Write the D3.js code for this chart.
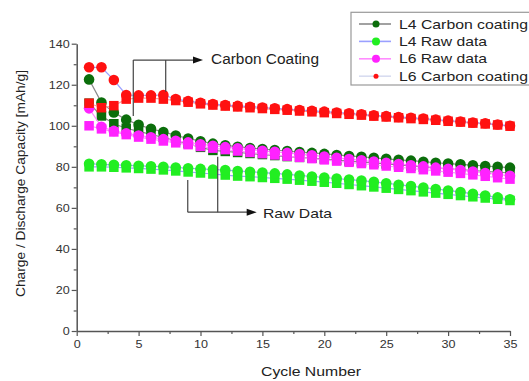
<!DOCTYPE html>
<html>
<head>
<meta charset="utf-8">
<script src="https://cdn.jsdelivr.net/npm/d3@7"></script>
<style>
  body { margin: 0; background: #fff; }
  text { font-family: "Liberation Sans", Arial, sans-serif; }
</style>
</head>
<body>
<svg id="chart"></svg>
<script>
// cycle numbers
const cycles = d3.range(1, 36);

// L4 carbon coating (charge = circles, discharge = squares)
const l4CarbonCharge = [122.6,111.3,106.5,103,100.5,98.5,97,95.3,93.8,92.5,91.3,90.5,89.8,89.2,88.7,88.2,87.7,87.2,86.8,86.3,85.8,85.3,84.9,84.4,83.9,83.4,83,82.5,82,81.6,81.2,80.8,80.4,80,79.6];
const l4CarbonDischarge = [111,104.8,101,98.8,97.3,95.8,94.3,92.8,91.3,89.5,88,87.5,87,86.5,86,85.5,85,84.6,84.2,83.8,83.3,82.8,82.4,81.9,81.4,80.9,80.4,79.9,79.5,79,78.6,78.2,77.8,77.4,77];

// L4 raw data
const l4RawCharge = [81.5,81.2,81,80.8,80.5,80.3,80,79.7,79.3,79,78.7,78.4,78,77.6,77.2,76.8,76.3,75.8,75.3,74.8,74.3,73.8,73.3,72.7,72,71.3,70.6,69.9,69.2,68.5,67.7,66.9,66,65.1,64.2];
const l4RawDischarge = [80,80,79.8,79.5,79.2,78.9,78.5,78,77.5,77,76.5,76,75.5,75.2,74.8,74.4,74,73.5,73,72.5,72,71.4,70.8,70.2,69.6,69,68.4,67.8,67.2,66.6,66,65.4,64.8,64.2,63.6];

// L6 raw data
const l6RawCharge = [108.5,99.5,97.5,96.3,95.3,94.4,93.5,92.7,91.9,91,90.3,89.6,89,88.4,87.8,87.3,86.8,86.2,85.6,85,84.4,83.8,83.2,82.6,82,81.4,80.8,80.2,79.6,79,78.4,77.7,77,76.3,75.6];
const l6RawDischarge = [100,98.5,97,95.7,94.5,93.5,92.6,91.7,90.8,89.9,89.1,88.4,87.7,87,86.4,85.8,85.2,84.6,84,83.4,82.8,82.2,81.6,81,80.4,79.8,79.2,78.6,78,77.4,76.8,76.1,75.4,74.7,74];

// L6 carbon coating
const l6CarbonCharge = [128.5,128.5,122.3,115,114.8,114.8,115,113,112,111.2,110.6,110.1,109.7,109.3,108.9,108.5,108.1,107.7,107.3,106.9,106.5,106.1,105.6,105.1,104.7,104.3,103.9,103.5,103,102.5,102.1,101.6,101.2,100.6,100];
const l6CarbonDischarge = [111,108.8,109.8,113,113.5,113.5,113,112.3,111.5,110.7,110.1,109.6,109.2,108.8,108.4,108,107.6,107.2,106.8,106.4,106,105.6,105.2,104.7,104.3,103.9,103.5,103.1,102.7,102.2,101.8,101.3,100.9,100.4,99.8];

const seriesNames = ["L4 Carbon coating", "L4 Raw data", "L6 Raw data", "L6 Carbon coating"];
const xTicks = [0, 5, 10, 15, 20, 25, 30, 35];
const yTicks = [0, 20, 40, 60, 80, 100, 120, 140];

// layout
const W = 529, H = 381;
const margin = {top: 43.7, right: 19, bottom: 50, left: 76.7};
const width = W - margin.left - margin.right;
const height = H - margin.top - margin.bottom;

const svg = d3.select('#chart')
    .attr('width', W)
    .attr('height', H);
const g = svg.append('g')
    .attr('transform', 'translate(' + margin.left + ',' + margin.top + ')');

const x = d3.scaleLinear().domain([0, 35]).range([0, width]);
const y = d3.scaleLinear().domain([0, 140]).range([height, 0]);

// axes
const axisColor = '#555';
const xAxis = g.append('g')
    .attr('transform', 'translate(0,' + height + ')')
    .call(d3.axisBottom(x).tickValues(d3.range(0, 35.1, 2.5)).tickSize(4).tickSizeOuter(0)
        .tickFormat(d => xTicks.includes(d) ? d : ''));
const yAxis = g.append('g')
    .call(d3.axisLeft(y).tickValues(d3.range(0, 141, 10)).tickSize(4).tickSizeOuter(0)
        .tickFormat(d => yTicks.includes(d) ? d : ''));
[xAxis, yAxis].forEach(function(a) {
    a.select('.domain').attr('stroke', axisColor).attr('stroke-width', 1.5);
    a.selectAll('.tick line').attr('stroke', axisColor).attr('stroke-width', 1.2);
    a.selectAll('.tick text').attr('fill', '#333').style('font-size', '11px')
        .style('font-family', '"Liberation Sans", Arial, sans-serif')
        .attr('lengthAdjust', 'spacingAndGlyphs')
        .attr('textLength', function(d) { return String(d).length * 7; });
});
xAxis.selectAll('.tick line').attr('y2', d => xTicks.includes(d) ? 5 : 3);
yAxis.selectAll('.tick line').attr('x2', d => yTicks.includes(d) ? -5 : -3);
xAxis.selectAll('.tick text').attr('y', 9);
xAxis.selectAll('.tick text').filter(d => !xTicks.includes(d)).remove();
yAxis.selectAll('.tick text').filter(d => !yTicks.includes(d)).remove();

// axis titles
svg.append('text')
    .attr('x', 261).attr('y', 376)
    .style('font-size', '13px').attr('fill', '#222')
    .attr('textLength', 100).attr('lengthAdjust', 'spacingAndGlyphs')
    .text('Cycle Number');
svg.append('text')
    .attr('transform', 'translate(25,297) rotate(-90)')
    .style('font-size', '13px').attr('fill', '#222')
    .attr('textLength', 227).attr('lengthAdjust', 'spacingAndGlyphs')
    .text('Charge / Discharge Capacity [mAh/g]');

// series definitions
const series = [
    {name: seriesNames[0], color: '#0b6e0b', line: '#8a8a8a', lineSq: '#8a8a8a', charge: l4CarbonCharge, discharge: l4CarbonDischarge, legR: 3.5, legW: 129},
    {name: seriesNames[1], color: '#22ee22', line: '#9aa0ff', lineSq: '#9aa0ff', charge: l4RawCharge, discharge: l4RawDischarge, legR: 4, legW: 88},
    {name: seriesNames[2], color: '#ff22ff', line: '#ff8cff', lineSq: '#ff8cff', charge: l6RawCharge, discharge: l6RawDischarge, legR: 4, legW: 88},
    {name: seriesNames[3], color: '#ff1111', line: '#9aa0ff', lineSq: '#ff9a9a', charge: l6CarbonCharge, discharge: l6CarbonDischarge, legR: 2.5, legW: 129}
];

const line = d3.line()
    .x((d, i) => x(cycles[i]))
    .y(d => y(d));

const sq = 9.5;
series.forEach(function(s) {
    const sg = g.append('g');
    sg.append('path').datum(s.discharge)
        .attr('d', line).attr('fill', 'none')
        .attr('stroke', s.lineSq).attr('stroke-width', 1.2);
    sg.append('path').datum(s.charge)
        .attr('d', line).attr('fill', 'none')
        .attr('stroke', s.line).attr('stroke-width', 1.2);
    sg.selectAll('rect.sq').data(s.discharge).enter()
        .append('rect').attr('class', 'sq')
        .attr('x', (d, i) => x(cycles[i]) - sq / 2)
        .attr('y', d => y(d) - sq / 2)
        .attr('width', sq).attr('height', sq)
        .attr('fill', s.color);
    sg.selectAll('circle.ci').data(s.charge).enter()
        .append('circle').attr('class', 'ci')
        .attr('cx', (d, i) => x(cycles[i]))
        .attr('cy', d => y(d))
        .attr('r', 5.3)
        .attr('fill', s.color);
});

// annotation brackets
const ann = g.append('g').attr('stroke', '#444').attr('stroke-width', 1.2).attr('fill', 'none');
function bracket(x1, x2, xArrow, yLine, top1, top2) {
    ann.append('line').attr('x1', x(x1)).attr('x2', x(x1)).attr('y1', y(yLine)).attr('y2', y(top1));
    ann.append('line').attr('x1', x(x2)).attr('x2', x(x2)).attr('y1', y(yLine)).attr('y2', y(top2));
    ann.append('line').attr('x1', x(x1)).attr('x2', x(xArrow) - 8).attr('y1', y(yLine)).attr('y2', y(yLine));
    ann.append('path')
        .attr('d', 'M' + x(xArrow) + ',' + y(yLine) + 'l-10,-3.5v7z')
        .attr('fill', '#111').attr('stroke', 'none');
}
bracket(4.57, 7.19, 10.2, 132, 104.8, 116.6);
bracket(8.97, 11.39, 14.54, 57.9, 73.6, 84.9);

g.append('text').attr('x', 211 - margin.left).attr('y', 64 - margin.top)
    .style('font-size', '14px').attr('fill', '#222')
    .attr('textLength', 108).attr('lengthAdjust', 'spacingAndGlyphs')
    .text('Carbon Coating');
g.append('text').attr('x', 263 - margin.left).attr('y', 218 - margin.top)
    .style('font-size', '13.5px').attr('fill', '#222')
    .attr('textLength', 69).attr('lengthAdjust', 'spacingAndGlyphs')
    .text('Raw Data');

// legend
const leg = svg.append('g');
leg.append('rect')
    .attr('x', 351).attr('y', 12.3).attr('width', 190).attr('height', 72.7)
    .attr('fill', '#fff').attr('stroke', '#999').attr('stroke-width', 1.2);
series.forEach(function(s, i) {
    const cy = 24 + i * 17.4;
    leg.append('line').attr('x1', 359).attr('x2', 391).attr('y1', cy).attr('y2', cy)
        .attr('stroke', i === 3 ? '#d8dcf0' : s.line).attr('stroke-width', 1.6);
    leg.append('circle').attr('cx', 376).attr('cy', cy).attr('r', s.legR).attr('fill', s.color);
    leg.append('text').attr('x', 399).attr('y', cy + 4.5)
        .style('font-size', '13.5px').attr('fill', '#222')
        .attr('textLength', s.legW).attr('lengthAdjust', 'spacingAndGlyphs')
        .text(s.name);
});
</script>
</body>
</html>
